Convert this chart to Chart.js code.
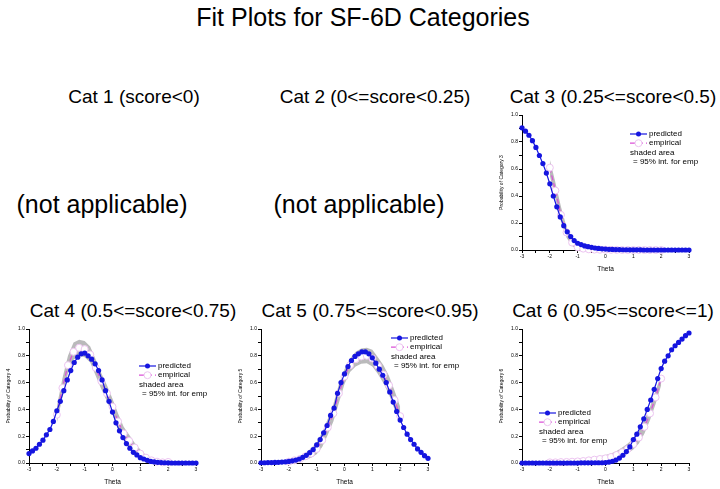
<!DOCTYPE html>
<html lang="en">
<head>
  <meta charset="UTF-8" />
  <title>Fit Plots for SF-6D Categories</title>
  <script src="https://cdn.jsdelivr.net/npm/chart.js"></script>
  <style>
    * {
      box-sizing: border-box;
    }

    body {
      margin: 0;
      width: 720px;
      height: 489px;
      position: relative;
      overflow: hidden;
      background: #ffffff;
      color: #000000;
      font-family: 'Liberation Sans', Arial, sans-serif;
    }

    .txt {
      position: absolute;
      white-space: nowrap;
      line-height: 1;
      transform: translateX(-50%);
    }

    canvas {
      position: absolute;
    }
  </style>
</head>
<body>
  <div class="txt" style="left:363px; top:5px; font-size:25px;">Fit Plots for SF-6D Categories</div>

  <div class="txt" style="left:134px; top:87px; font-size:19px;">Cat 1 (score&lt;0)</div>
  <div class="txt" style="left:375px; top:87px; font-size:19px;">Cat 2 (0&lt;=score&lt;0.25)</div>
  <div class="txt" style="left:613px; top:87px; font-size:19px;">Cat 3 (0.25&lt;=score&lt;0.5)</div>

  <div class="txt" style="left:102px; top:192px; font-size:25px;">(not applicable)</div>
  <div class="txt" style="left:359px; top:192px; font-size:25px;">(not applicable)</div>

  <div class="txt" style="left:133px; top:301px; font-size:19px;">Cat 4 (0.5&lt;=score&lt;0.75)</div>
  <div class="txt" style="left:370px; top:301px; font-size:19px;">Cat 5 (0.75&lt;=score&lt;0.95)</div>
  <div class="txt" style="left:613px; top:301px; font-size:19px;">Cat 6 (0.95&lt;=score&lt;=1)</div>

<script>
// theta grid of the model curve and of the empirical estimate
const predTheta = [-3, -2.875, -2.75, -2.625, -2.5, -2.375, -2.25, -2.125, -2, -1.875, -1.75, -1.625,
  -1.5, -1.375, -1.25, -1.125, -1, -0.875, -0.75, -0.625, -0.5, -0.375, -0.25, -0.125, 0,
  0.125, 0.25, 0.375, 0.5, 0.625, 0.75, 0.875, 1, 1.125, 1.25, 1.375, 1.5, 1.625, 1.75, 1.875,
  2, 2.125, 2.25, 2.375, 2.5, 2.625, 2.75, 2.875, 3];
const empTheta = [-2, -1.8, -1.6, -1.4, -1.2, -1, -0.8, -0.6, -0.4, -0.2, 0, 0.2, 0.4, 0.6, 0.8, 1, 1.2, 1.4, 1.6, 1.8, 2];

// Category 3
const cat3Pred = [0.905, 0.88, 0.85, 0.81, 0.76, 0.70, 0.64, 0.57, 0.49, 0.40, 0.32, 0.245, 0.18, 0.135, 0.10, 0.07,
  0.05, 0.04, 0.03, 0.025, 0.02, 0.015, 0.012, 0.009, 0.007,
  0.005, 0.004, 0.003, 0.003, 0.002, 0.002, 0.001, 0.001, 0.001, 0.001, 0, 0, 0, 0, 0, 0, 0, 0, 0, 0, 0, 0, 0, 0];
const cat3Emp = [0.61, 0.44, 0.26, 0.13, 0.055, 0.02, 0.01, 0.005, 0.003, 0.002, 0.002, 0.001, 0.001, 0, 0, 0, 0, 0, 0, 0, 0];
const cat3Lo = [0.55, 0.38, 0.21, 0.09, 0.03, 0.005, 0, 0, 0, 0, 0, 0, 0, 0, 0, 0, 0, 0, 0, 0, 0];
const cat3Hi = [0.67, 0.50, 0.32, 0.17, 0.08, 0.035, 0.02, 0.012, 0.008, 0.006, 0.005, 0.004, 0.003, 0.002, 0.002,
  0.001, 0.001, 0.001, 0.001, 0.001, 0.001];

// Category 4
const cat4Pred = [0.07, 0.09, 0.11, 0.14, 0.17, 0.21, 0.25, 0.31, 0.39, 0.46, 0.54, 0.62, 0.69, 0.75, 0.79, 0.815,
  0.82, 0.80, 0.775, 0.74, 0.69, 0.62, 0.54, 0.46, 0.38,
  0.30, 0.24, 0.19, 0.145, 0.11, 0.08, 0.06, 0.04, 0.03, 0.02, 0.012, 0.008, 0.005, 0.003, 0.002, 0.001,
  0, 0, 0, 0, 0, 0, 0, 0];
const cat4Emp = [0.36, 0.56, 0.73, 0.83, 0.86, 0.85, 0.81, 0.71, 0.61, 0.52, 0.42, 0.31, 0.22, 0.165, 0.115, 0.07,
  0.04, 0.02, 0.01, 0.005, 0.008];
const cat4Lo = [0.30, 0.49, 0.67, 0.77, 0.80, 0.79, 0.75, 0.65, 0.55, 0.46, 0.36, 0.25, 0.17, 0.12, 0.08, 0.04,
  0.02, 0.005, 0, 0, 0];
const cat4Hi = [0.42, 0.63, 0.80, 0.90, 0.92, 0.91, 0.87, 0.77, 0.67, 0.58, 0.48, 0.37, 0.27, 0.21, 0.15, 0.10,
  0.06, 0.035, 0.02, 0.015, 0.02];

// Category 5
const cat5Pred = [0.002, 0.002, 0.003, 0.003, 0.004, 0.005, 0.007, 0.009, 0.012, 0.016, 0.022, 0.03, 0.042, 0.057,
  0.077, 0.10, 0.135, 0.175, 0.225, 0.28, 0.355, 0.41, 0.52, 0.60, 0.665,
  0.72, 0.765, 0.795, 0.815, 0.83, 0.83, 0.815, 0.785, 0.745, 0.70, 0.655, 0.60, 0.53, 0.455, 0.385,
  0.32, 0.265, 0.215, 0.175, 0.14, 0.105, 0.08, 0.055, 0.035];
const cat5Emp = [0.01, 0.02, 0.03, 0.05, 0.07, 0.105, 0.17, 0.265, 0.37, 0.52, 0.645, 0.73, 0.775, 0.795, 0.80,
  0.78, 0.725, 0.66, 0.58, 0.47, 0.35];
const cat5Lo = [0, 0.005, 0.012, 0.025, 0.04, 0.065, 0.12, 0.21, 0.31, 0.45, 0.59, 0.68, 0.72, 0.74, 0.745,
  0.72, 0.665, 0.595, 0.51, 0.40, 0.30];
const cat5Hi = [0.02, 0.03, 0.05, 0.075, 0.11, 0.155, 0.23, 0.33, 0.44, 0.59, 0.70, 0.78, 0.83, 0.855, 0.86,
  0.845, 0.79, 0.73, 0.65, 0.54, 0.42];

// Category 6
const cat6Pred = [0, 0, 0, 0, 0, 0, 0, 0, 0, 0, 0, 0, 0, 0, 0, 0, 0,
  0.001, 0.001, 0.001, 0.001, 0.002, 0.002, 0.002,
  0.003, 0.007, 0.013, 0.022, 0.037, 0.058, 0.085, 0.12, 0.175, 0.215, 0.27, 0.33, 0.40, 0.47, 0.55, 0.63,
  0.705, 0.76, 0.80, 0.845, 0.875, 0.90, 0.925, 0.95, 0.97];
const cat6Emp = [0.005, 0.005, 0.007, 0.008, 0.01, 0.012, 0.015, 0.02, 0.025, 0.03, 0.035, 0.045, 0.06, 0.08,
  0.105, 0.14, 0.19, 0.27, 0.37, 0.49, 0.63];
const cat6Lo = [0, 0, 0, 0, 0, 0, 0, 0.002, 0.005, 0.01, 0.015, 0.02, 0.03, 0.045, 0.07, 0.10, 0.145, 0.22,
  0.32, 0.44, 0.58];
const cat6Hi = [0.01, 0.012, 0.015, 0.018, 0.022, 0.026, 0.03, 0.036, 0.042, 0.05, 0.06, 0.07, 0.09, 0.115,
  0.145, 0.185, 0.24, 0.32, 0.42, 0.54, 0.66];

const FONT = "'Liberation Sans', Arial, sans-serif";
const BLUE = '#1515e0';
const PINK = '#dc50d8';
const RING = '#ecc4f0';
const BAND = 'rgba(178, 178, 180, 0.9)';

// plot area [left, top, right, bottom] in page pixels, legend offset inside plot area
const panels = [
  { cat: 3, area: [522, 115, 689, 250], pred: cat3Pred, emp: cat3Emp, lo: cat3Lo, hi: cat3Hi, legend: [108, 19] },
  { cat: 4, area: [29, 329, 196, 463], pred: cat4Pred, emp: cat4Emp, lo: cat4Lo, hi: cat4Hi, legend: [110, 37] },
  { cat: 5, area: [261, 329, 428, 463], pred: cat5Pred, emp: cat5Emp, lo: cat5Lo, hi: cat5Hi, legend: [130, 9] },
  { cat: 6, area: [522, 329, 689, 463], pred: cat6Pred, emp: cat6Emp, lo: cat6Lo, hi: cat6Hi, legend: [17, 84] }
];

function pts(xs, ys) {
  return xs.map((x, i) => ({ x: x, y: ys[i] }));
}

// legend box drawn inside the plot area
const fitLegend = {
  id: 'fitLegend',
  afterDraw(chart, args, opts) {
    const ctx = chart.ctx;
    const x = chart.chartArea.left + opts.x;
    const y = chart.chartArea.top + opts.y;
    const rowH = 9.2;
    ctx.save();

    ctx.strokeStyle = BLUE;
    ctx.lineWidth = 1.2;
    ctx.beginPath();
    ctx.moveTo(x, y);
    ctx.lineTo(x + 17, y);
    ctx.stroke();
    ctx.fillStyle = BLUE;
    ctx.beginPath();
    ctx.arc(x + 8.5, y, 2.5, 0, Math.PI * 2);
    ctx.fill();

    ctx.strokeStyle = PINK;
    ctx.setLineDash([5, 3]);
    ctx.beginPath();
    ctx.moveTo(x, y + rowH);
    ctx.lineTo(x + 17, y + rowH);
    ctx.stroke();
    ctx.setLineDash([]);
    ctx.fillStyle = '#ffffff';
    ctx.strokeStyle = RING;
    ctx.lineWidth = 1;
    ctx.beginPath();
    ctx.arc(x + 8.5, y + rowH, 3.5, 0, Math.PI * 2);
    ctx.fill();
    ctx.stroke();

    ctx.fillStyle = '#000000';
    ctx.font = '8px ' + FONT;
    ctx.textBaseline = 'middle';
    ctx.fillText('predicted', x + 19, y);
    ctx.fillText('empirical', x + 19, y + rowH);
    ctx.fillText('shaded area', x, y + rowH * 2);
    ctx.fillText('= 95% int. for emp', x + 3, y + rowH * 3);
    ctx.restore();
  }
};

// extra room on the right so the legend text is not cut off
const padTop = 6, padRight = 40, yW = 23, xH = 23;

panels.forEach(p => {
  const [l, t, r, b] = p.area;
  const cv = document.createElement('canvas');
  cv.width = r - l + yW + padRight;
  cv.height = b - t + padTop + xH;
  cv.style.left = (l - yW) + 'px';
  cv.style.top = (t - padTop) + 'px';
  document.body.appendChild(cv);

  new Chart(cv, {
    type: 'line',
    data: {
      datasets: [
        {
          label: 'predicted',
          data: pts(predTheta, p.pred),
          borderColor: BLUE,
          backgroundColor: BLUE,
          borderWidth: 1.2,
          pointRadius: 2.6,
          pointBorderWidth: 0,
          pointBackgroundColor: BLUE,
          clip: 6,
          order: 0
        },
        {
          label: 'empirical',
          data: pts(empTheta, p.emp),
          borderColor: PINK,
          borderDash: [5, 3],
          borderWidth: 1.2,
          pointRadius: 3.5,
          pointBackgroundColor: '#ffffff',
          pointBorderColor: RING,
          pointBorderWidth: 1,
          clip: 6,
          order: 1
        },
        {
          label: 'lower',
          data: pts(empTheta, p.lo),
          borderWidth: 0,
          pointRadius: 0,
          fill: false,
          order: 3
        },
        {
          label: 'upper',
          data: pts(empTheta, p.hi),
          borderWidth: 0,
          pointRadius: 0,
          backgroundColor: BAND,
          fill: '-1',
          order: 2
        }
      ]
    },
    options: {
      responsive: false,
      animation: false,
      devicePixelRatio: 1,
      layout: { padding: { top: padTop, right: padRight, left: 0, bottom: 0 } },
      plugins: {
        legend: { display: false },
        tooltip: { enabled: false },
        fitLegend: { x: p.legend[0], y: p.legend[1] }
      },
      scales: {
        x: {
          type: 'linear',
          min: -3,
          max: 3,
          afterFit: s => { s.height = xH; },
          ticks: {
            stepSize: 0.5,
            autoSkip: false,
            maxRotation: 0,
            padding: 1,
            color: '#000000',
            font: { size: 5, family: FONT },
            callback: v => Math.abs(v - Math.round(v)) < 1e-6 ? String(Math.round(v)) : ''
          },
          grid: { drawOnChartArea: false, drawTicks: true, tickLength: 3, color: '#000000' },
          border: { display: true, color: '#000000', width: 1 },
          title: { display: true, text: 'Theta', color: '#000000', padding: 0, font: { size: 6.5, family: FONT } }
        },
        y: {
          min: 0,
          max: 1,
          afterFit: s => { s.width = yW; },
          ticks: {
            stepSize: 0.1,
            autoSkip: false,
            padding: 1,
            color: '#000000',
            font: { size: 5, family: FONT },
            callback: v => Math.round(v * 10) % 2 === 0 ? v.toFixed(1) : ''
          },
          grid: { drawOnChartArea: false, drawTicks: true, tickLength: 3, color: '#000000' },
          border: { display: true, color: '#000000', width: 1 },
          title: { display: true, text: 'Probability of Category ' + p.cat, color: '#000000', padding: 0, font: { size: 5, family: FONT } }
        }
      }
    },
    plugins: [fitLegend]
  });
});
</script>
</body>
</html>
